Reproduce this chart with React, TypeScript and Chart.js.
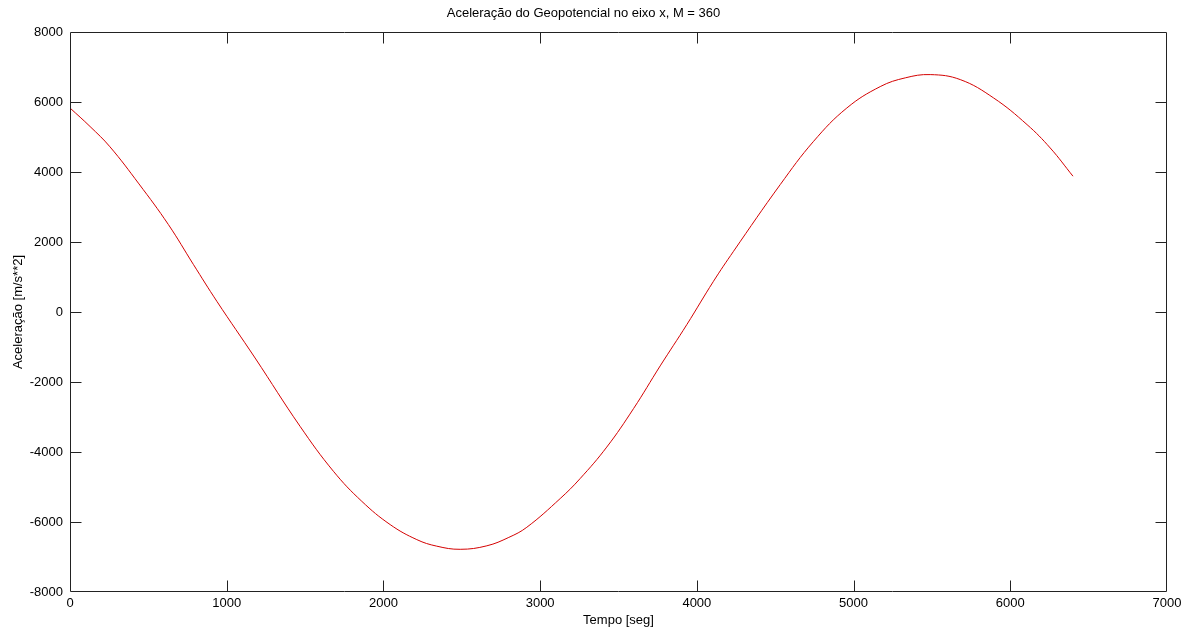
import { useEffect, useRef } from "react";
import { Chart, registerables } from "chart.js";

Chart.register(...registerables);

// Time [s] and acceleration values
const timeSec = [
  0, 128, 255, 440, 628, 788, 937, 1181, 1468, 1681, 1862, 2043, 2213, 2340,
  2490, 2660, 2800, 2915, 3128, 3255, 3425, 3596, 3766, 3936, 4106, 4234, 4532,
  4745, 4957, 5170, 5330, 5489, 5681, 5894, 6107, 6255, 6400,
];
const accel = [
  5829, 5300, 4720, 3660, 2497, 1354, 306, -1314, -3266, -4551, -5409, -6074,
  -6503, -6690, -6780, -6680, -6440, -6150, -5330, -4760, -3860, -2760, -1540,
  -360, 877, 1734, 3640, 4877, 5829, 6440, 6690, 6783, 6640, 6114, 5354, 4686,
  3880,
];
const xTicks = [0, 1000, 2000, 3000, 4000, 5000, 6000, 7000];
const yTicks = [-8000, -6000, -4000, -2000, 0, 2000, 4000, 6000, 8000];

const FONT = { family: "'Liberation Sans', Arial, sans-serif", size: 13 };

const boxPlugin = {
  id: "matlabBox",
  afterDraw(chart: any) {
    const { ctx, chartArea, scales } = chart;
    const { left, right, top, bottom } = chartArea;
    const L = Math.round(left) + 0.5;
    const R = Math.round(right) - 0.5;
    const T = Math.round(top) + 0.5;
    const B = Math.round(bottom) - 0.5;
    const len = 11;
    ctx.save();
    ctx.strokeStyle = "#222";
    ctx.lineWidth = 1;
    ctx.beginPath();
    ctx.moveTo(L, T);
    ctx.lineTo(R, T);
    ctx.lineTo(R, B);
    ctx.lineTo(L, B);
    ctx.closePath();
    for (const v of xTicks.slice(1, -1)) {
      const px = Math.round(scales.x.getPixelForValue(v)) + 0.5;
      ctx.moveTo(px, B);
      ctx.lineTo(px, B - len);
      ctx.moveTo(px, T);
      ctx.lineTo(px, T + len);
    }
    for (const v of yTicks.slice(1, -1)) {
      const py = Math.round(scales.y.getPixelForValue(v)) + 0.5;
      ctx.moveTo(L, py);
      ctx.lineTo(L + len, py);
      ctx.moveTo(R, py);
      ctx.lineTo(R - len, py);
    }
    ctx.stroke();
    ctx.restore();
  },
};

export default function App() {
  const ref = useRef<HTMLCanvasElement | null>(null);

  useEffect(() => {
    if (!ref.current) return;
    const chart = new Chart(ref.current, {
      type: "line",
      data: {
        datasets: [
          {
            data: timeSec.map((t, i) => ({ x: t, y: accel[i] })),
            borderColor: "#d40000",
            borderWidth: 1,
            pointRadius: 0,
            tension: 0.4,
            fill: false,
          },
        ],
      },
      options: {
        animation: false,
        responsive: true,
        maintainAspectRatio: false,
        layout: { padding: { left: 0, right: 26, top: 0, bottom: 0 } },
        plugins: {
          legend: { display: false },
          tooltip: { enabled: false },
          title: {
            display: true,
            text: "Aceleração do Geopotencial no eixo x, M = 360",
            color: "#000",
            font: { ...FONT, weight: "normal" },
            padding: { top: 5.2, bottom: 11.2 },
          },
        },
        scales: {
          x: {
            type: "linear",
            min: 0,
            max: 7000,
            afterBuildTicks: (s: any) => {
              s.ticks = xTicks.map((v) => ({ value: v }));
            },
            afterFit: (s: any) => {
              s.height = 45;
            },
            grid: { display: false, drawTicks: false },
            border: { display: false },
            ticks: {
              color: "#000",
              font: FONT,
              padding: 4,
              maxRotation: 0,
              callback: (v: any) => String(v),
            },
            title: {
              display: true,
              text: "Tempo [seg]",
              color: "#000",
              font: FONT,
              padding: { top: 0, bottom: 9.2 },
            },
          },
          y: {
            type: "linear",
            min: -8000,
            max: 8000,
            afterBuildTicks: (s: any) => {
              s.ticks = yTicks.map((v) => ({ value: v }));
            },
            afterFit: (s: any) => {
              s.width = 70;
            },
            grid: { display: false, drawTicks: false },
            border: { display: false },
            ticks: {
              color: "#000",
              font: FONT,
              padding: 7,
              callback: (v: any) => String(v),
            },
            title: {
              display: true,
              text: "Aceleração [m/s**2]",
              color: "#000",
              font: FONT,
              padding: { top: 10.2, bottom: 0 },
            },
          },
        },
      },
      plugins: [boxPlugin],
    });
    return () => chart.destroy();
  }, []);

  return (
    <div
      style={{
        position: "fixed",
        left: 0,
        top: 0,
        width: 1193,
        height: 637,
        background: "#fff",
      }}
    >
      <canvas ref={ref} />
    </div>
  );
}
